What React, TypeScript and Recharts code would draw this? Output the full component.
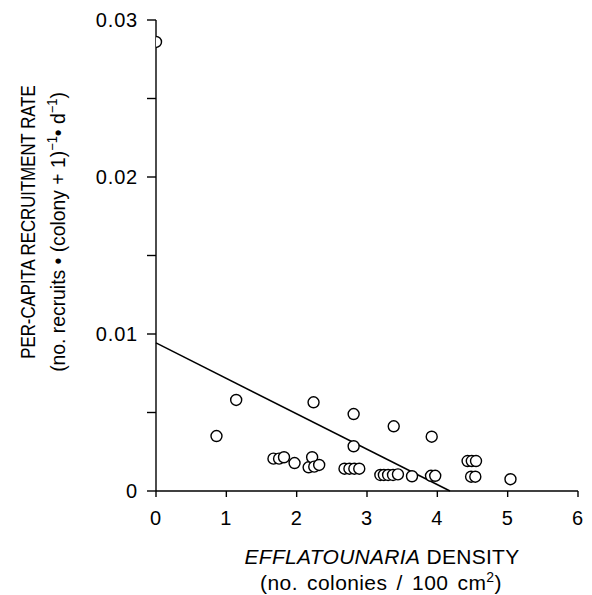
import React from "react";
import {
  ScatterChart,
  Scatter,
  XAxis,
  YAxis,
  ReferenceLine,
} from "recharts";

// density (colonies / 100 cm2) and per-capita recruitment rate
const densityX = [
  0, 0.86, 1.14, 1.67, 1.75, 1.82, 1.97, 2.17, 2.22, 2.24, 2.25, 2.32,
  2.68, 2.75, 2.81, 2.81, 2.82, 2.89, 3.19, 3.24, 3.3, 3.37, 3.38, 3.44,
  3.64, 3.91, 3.92, 3.97, 4.43, 4.49, 4.55, 4.48, 4.54, 5.04,
];
const recruitRate = [
  0.0286, 0.0035, 0.0058, 0.00206, 0.00206, 0.00215, 0.00178, 0.00151,
  0.00215, 0.00565, 0.00155, 0.00166, 0.00142, 0.00142, 0.0049, 0.00285,
  0.00142, 0.00142, 0.00102, 0.00102, 0.00102, 0.00102, 0.00412, 0.00106,
  0.00094, 0.00097, 0.00346, 0.00097, 0.00191, 0.00191, 0.00191, 0.00091,
  0.00091, 0.00075,
];

// fitted regression line end points
const fitX = [0, 4.18];
const fitY = [0.00943, 0];

const xTicks = [0, 1, 2, 3, 4, 5, 6];
const yTicks = [0, 0.005, 0.01, 0.015, 0.02, 0.025, 0.03];
const yTickLabels = ["0", "", "0.01", "", "0.02", "", "0.03"];

const FONT = "'Liberation Sans', Arial, Helvetica, sans-serif";

const points = densityX.map((x, i) => ({ x, y: recruitRate[i] }));

function OpenCircle(props: any) {
  const { cx, cy } = props;
  if (cx == null || cy == null) return null;
  return <circle cx={cx} cy={cy} r={5.5} fill="#fff" stroke="#000" strokeWidth={1.4} />;
}

const sup: React.CSSProperties = { fontSize: 14, verticalAlign: "super", lineHeight: 0 };

const tickStyle = { fontSize: 20, fill: "#000", fontFamily: FONT, letterSpacing: 0.8 };

export default function App() {
  return (
    <div
      style={{
        position: "fixed",
        left: 0,
        top: 0,
        width: 592,
        height: 595,
        background: "#fff",
        fontFamily: FONT,
        color: "#000",
      }}
    >
      <ScatterChart
        width={592}
        height={595}
        margin={{ top: 20, right: 14, bottom: 74, left: 96 }}
      >
        <XAxis
          type="number"
          dataKey="x"
          domain={[0, 6]}
          ticks={xTicks}
          allowDataOverflow
          height={30}
          stroke="#000"
          strokeWidth={1.4}
          tickSize={6}
          tickMargin={14}
          tick={tickStyle}
        />
        <YAxis
          type="number"
          dataKey="y"
          domain={[0, 0.03]}
          ticks={yTicks}
          allowDataOverflow
          width={60}
          stroke="#000"
          strokeWidth={1.4}
          tickSize={9}
          tickMargin={9}
          tickFormatter={(_v: number, i: number) => yTickLabels[i]}
          tick={tickStyle}
        />
        <ReferenceLine
          segment={[
            { x: fitX[0], y: fitY[0] },
            { x: fitX[1], y: fitY[1] },
          ]}
          stroke="#000"
          strokeWidth={1.5}
          ifOverflow="visible"
        />
        <Scatter data={points} shape={<OpenCircle />} isAnimationActive={false} />
      </ScatterChart>

      {/* x axis title */}
      <div
        style={{
          position: "absolute",
          left: 382,
          top: 557,
          transform: "translate(-50%, -50%)",
          whiteSpace: "nowrap",
          fontSize: 21,
          letterSpacing: 0.3,
        }}
      >
        <i>EFFLATOUNARIA</i> DENSITY
      </div>
      <div
        style={{
          position: "absolute",
          left: 381,
          top: 583,
          transform: "translate(-50%, -50%)",
          whiteSpace: "nowrap",
          fontSize: 21,
          wordSpacing: 3,
          letterSpacing: 0.4,
        }}
      >
        (no. colonies / 100 cm<span style={sup}>2</span>)
      </div>

      {/* y axis title */}
      <div
        style={{
          position: "absolute",
          left: 28,
          top: 222,
          transform: "translate(-50%, -50%) rotate(-90deg) scaleX(0.8)",
          whiteSpace: "nowrap",
          fontSize: 21,
        }}
      >
        PER-CAPITA RECRUITMENT RATE
      </div>
      <div
        style={{
          position: "absolute",
          left: 58,
          top: 232,
          transform: "translate(-50%, -50%) rotate(-90deg) scaleX(0.92)",
          whiteSpace: "nowrap",
          fontSize: 21,
        }}
      >
        (no. recruits • (colony + 1)<span style={sup}>−1</span>• d<span style={sup}>−1</span>)
      </div>
    </div>
  );
}
